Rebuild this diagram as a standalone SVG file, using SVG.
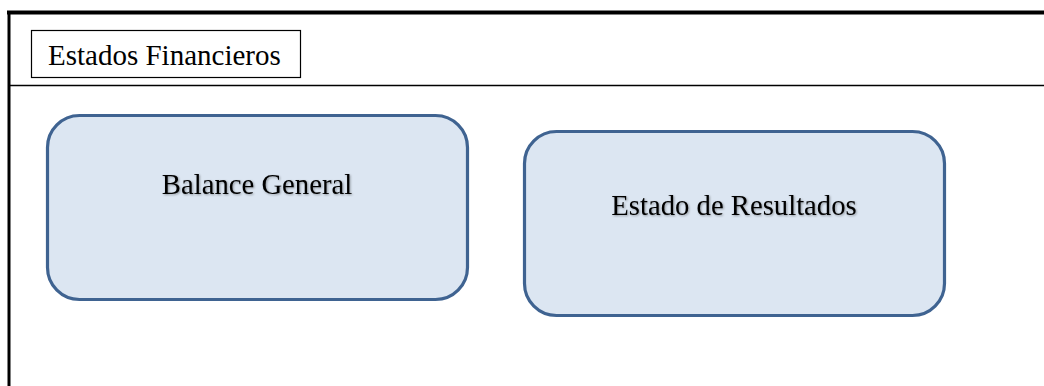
<svg xmlns="http://www.w3.org/2000/svg" width="1044" height="386" viewBox="0 0 1044 386">
<style>
.lbl{font-family:"Liberation Serif","Times New Roman",serif;fill:#000;}
.node rect{fill:#DCE6F2;stroke:#3F6391;stroke-width:3.2;}
</style>
<defs>
<filter id="sh" x="-10%" y="-30%" width="120%" height="160%">
<feDropShadow dx="1" dy="1" stdDeviation="0.8" flood-color="#000" flood-opacity="0.35"/>
</filter>
</defs>
<rect width="1044" height="386" fill="#fff"/>
<g id="frame">
<line x1="7" y1="12.5" x2="1044" y2="12.5" stroke="#000" stroke-width="4"/>
<line x1="9" y1="11" x2="9" y2="386" stroke="#000" stroke-width="3"/>
<line x1="9" y1="85.5" x2="1044" y2="85.5" stroke="#000" stroke-width="1.5"/>
</g>
<g id="title">
<rect x="31.5" y="30.5" width="269" height="47" fill="#fff" stroke="#000" stroke-width="1.2"/>
<text class="lbl" x="48" y="65" font-size="29">Estados Financieros</text>
</g>
<g id="balance" class="node">
<rect x="47.5" y="115.5" width="420" height="184" rx="32" ry="32"/>
<text class="lbl" x="257" y="194" font-size="28.7" text-anchor="middle" filter="url(#sh)">Balance General</text>
</g>
<g id="resultados" class="node">
<rect x="524.5" y="131.5" width="420" height="184" rx="32" ry="32"/>
<text class="lbl" x="734" y="215" font-size="28.7" text-anchor="middle" filter="url(#sh)">Estado de Resultados</text>
</g>
<g id="connectors"></g>
</svg>
